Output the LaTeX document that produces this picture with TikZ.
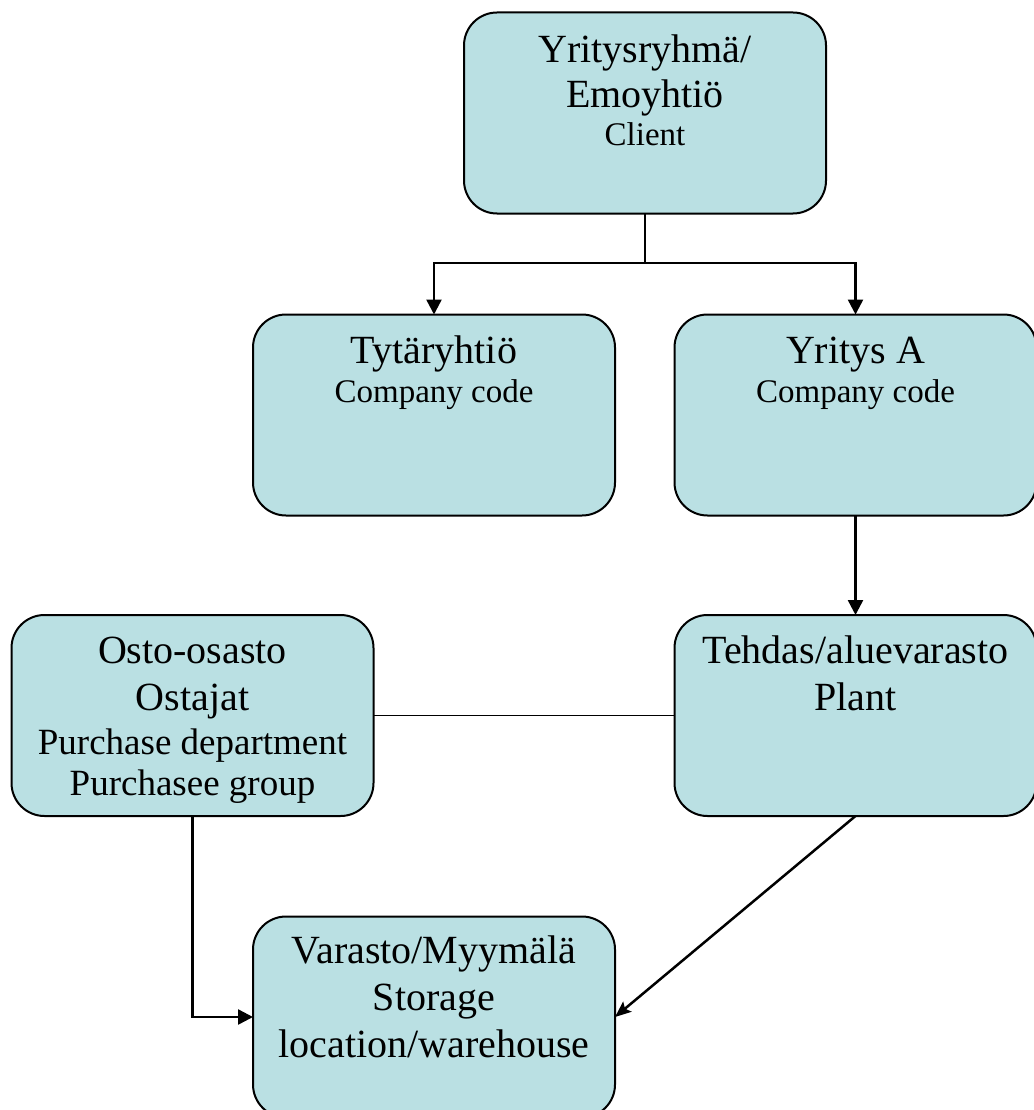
\documentclass[tikz,border=0pt]{standalone}
\usepackage{fontspec}
\setmainfont{Liberation Serif}
\usetikzlibrary{arrows.meta}
\newlength{\du}
\setlength{\du}{1pt}
\definecolor{boxfillcolor}{rgb}{0.729412, 0.878431, 0.890196}
\newcommand{\boxlines}[2]{\parbox[c][200\du][t]{360\du}{\centering\fontsize{40}{47}\selectfont\rule{0pt}{#1}#2}}
\newcommand{\midline}[1]{{\fontsize{37}{44}\selectfont #1}}
\newcommand{\smallline}[1]{{\fontsize{33}{39}\selectfont #1}}
\tikzset{
  unit/.style={draw=black, fill=boxfillcolor, line width=2\du, rounded corners=33\du,
    inner sep=0pt, outer sep=0pt, minimum width=362\du, minimum height=201\du},
  link/.style={line width=2.5\du, -{Triangle[length=15pt,width=15pt]}},
  slant/.style={line width=2.5\du, -{Stealth[length=16pt,width=13pt,inset=3pt]}},
  plain/.style={line width=1.3\du}
}
\begin{document}
\begin{tikzpicture}
\pgftransformxscale{1.000000}
\pgftransformyscale{-1.000000}
\useasboundingbox (0.000000\du,0.000000\du) rectangle (1033.000000\du,1110.000000\du);
% boxes
\node[unit] (group) at (645.000000\du,113.000000\du){\boxlines{50\du}{Yritysryhmä/\\[-2\du]Emoyhtiö\\[-9\du]\smallline{Client}}};
\node[unit] (daughter) at (434.000000\du,415.000000\du){\boxlines{48\du}{Tytäryhtiö\\[-8\du]\smallline{Company code}}};
\node[unit] (firm) at (855.500000\du,415.000000\du){\boxlines{48\du}{Yritys A\\[-8\du]\smallline{Company code}}};
\node[unit] (purchase) at (192.500000\du,715.500000\du){\boxlines{48\du}{Osto-osasto\\Ostajat\\[-3\du]\midline{Purchase department}\\[-6\du]\midline{Purchasee group}}};
\node[unit] (plant) at (855.500000\du,715.500000\du){\boxlines{48\du}{Tehdas/aluevarasto\\Plant}};
\node[unit] (storage) at (434.000000\du,1017.000000\du){\boxlines{46\du}{Varasto/Myymälä\\Storage\\location/warehouse}};
% connectors
\coordinate (fork) at (645.000000\du,263.000000\du);
\draw[line width=2.5\du] (group.south) -- (fork);
\draw[link] (fork) -| (daughter.north);
\draw[link] (fork) -| (firm.north);
\draw[link] (firm.south) -- (plant.north);
\draw[plain] (purchase.east) -- (plant.west);
\draw[link] (purchase.south) |- (storage.west);
\draw[slant] (plant.south) -- (storage.east);
\end{tikzpicture}
\end{document}
